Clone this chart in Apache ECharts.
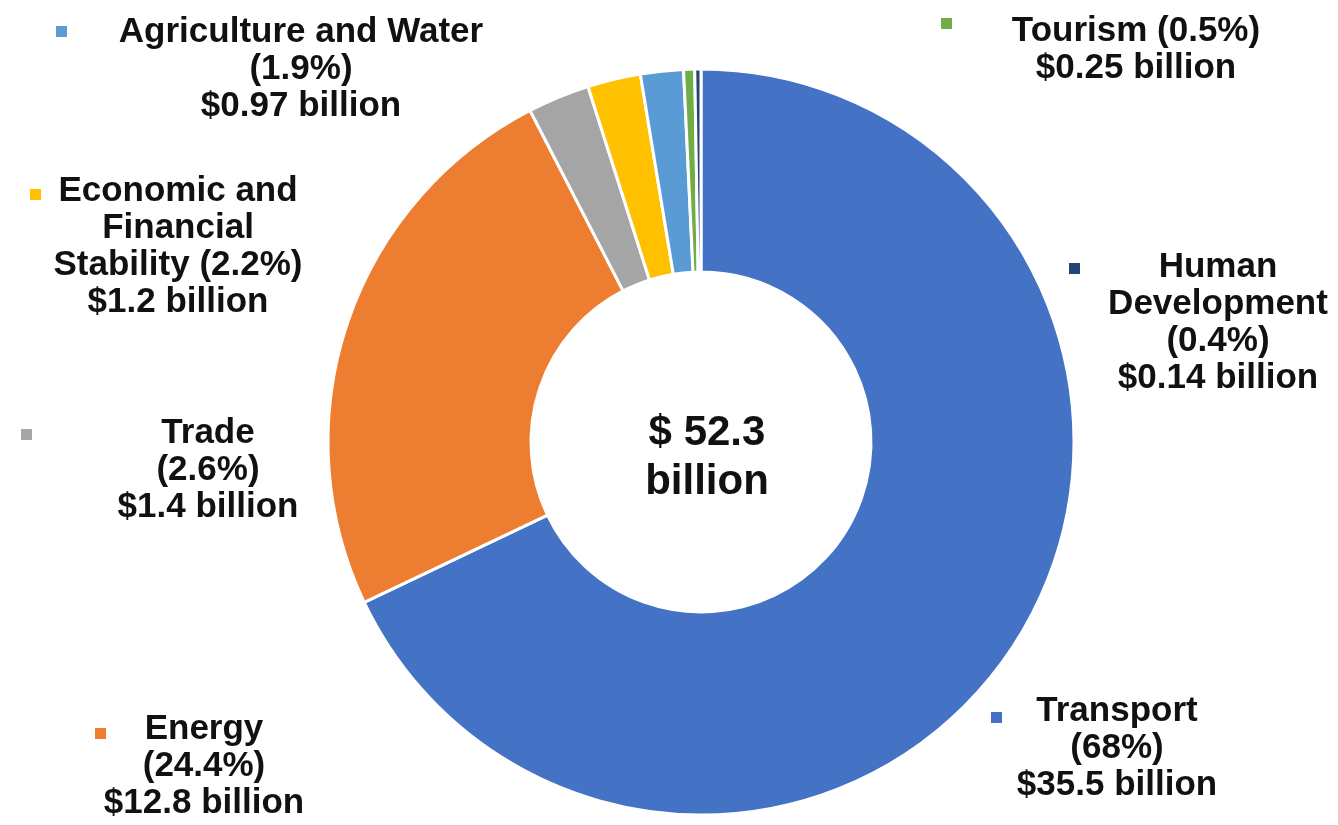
<!DOCTYPE html>
<html>
<head>
<meta charset="utf-8">
<title>Donut chart</title>
<script src="https://cdn.jsdelivr.net/npm/echarts@6/dist/echarts.min.js"></script>
<style>
  html, body { margin: 0; padding: 0; background: #fff; }
  #chart { width: 1338px; height: 825px; }
</style>
</head>
<body>
<div id="chart"></div>
<script>
// ---- data ----
var categories = ['Transport', 'Energy', 'Trade', 'Economic and Financial Stability', 'Agriculture and Water', 'Tourism', 'Human Development'];
var amounts = [35.5, 12.8, 1.4, 1.2, 0.97, 0.25, 0.14];
var labelTexts = [
  'Transport\n(68%)\n$35.5 billion',
  'Energy\n(24.4%)\n$12.8 billion',
  'Trade\n(2.6%)\n$1.4 billion',
  'Economic and\nFinancial\nStability (2.2%)\n$1.2 billion',
  'Agriculture and Water\n(1.9%)\n$0.97 billion',
  'Tourism (0.5%)\n$0.25 billion',
  'Human\nDevelopment\n(0.4%)\n$0.14 billion'
];
var centerText = '$ 52.3\nbillion';

// ---- styling / layout (kept separate from data) ----
var colors = ['#4472C4', '#ED7D31', '#A5A5A5', '#FFC000', '#5B9BD5', '#70AD47', '#264478'];
var labelPos = [
  [1117, 693], [204, 711], [208, 415], [178, 173], [301, 14], [1136, 13], [1218, 249]
];
var squarePos = [
  [989, 710], [93, 726], [19, 427], [28, 187], [54, 24], [939, 16], [1067, 261]
];
var FONT = '"Liberation Sans", Arial, Helvetica, sans-serif';

var chart = echarts.init(document.getElementById('chart'));

var legends = categories.map(function (name, i) {
  return {
    data: [name],
    left: squarePos[i][0],
    top: squarePos[i][1],
    padding: 0,
    icon: 'rect',
    itemWidth: 13,
    itemHeight: 13,
    selectedMode: false,
    formatter: function () { return ''; },
    textStyle: { fontSize: 1 }
  };
});

var option = {
  backgroundColor: '#ffffff',
  animation: false,
  color: colors,
  title: {
    text: centerText,
    left: 702,
    top: 404,
    textAlign: 'center',
    textStyle: {
      fontFamily: FONT,
      fontWeight: 'bold',
      fontSize: 42,
      lineHeight: 49,
      color: '#111'
    }
  },
  legend: legends,
  series: [{
    type: 'pie',
    center: [701, 442],
    radius: [170, 373],
    startAngle: 90,
    clockwise: true,
    avoidLabelOverlap: false,
    itemStyle: { borderColor: '#ffffff', borderWidth: 3 },
    label: {
      show: true,
      position: 'outside',
      formatter: function (p) { return labelTexts[p.dataIndex]; },
      fontFamily: FONT,
      fontWeight: 'bold',
      fontSize: 35,
      lineHeight: 37,
      color: '#111',
      align: 'center'
    },
    labelLine: { show: false },
    labelLayout: function (p) {
      var pos = labelPos[p.dataIndex];
      return { x: pos[0], y: pos[1], align: 'center', verticalAlign: 'top', hideOverlap: false, moveOverlap: false };
    },
    emphasis: { disabled: true },
    data: categories.map(function (name, i) {
      return { name: name, value: amounts[i] };
    })
  }]
};

chart.setOption(option);
</script>
</body>
</html>
